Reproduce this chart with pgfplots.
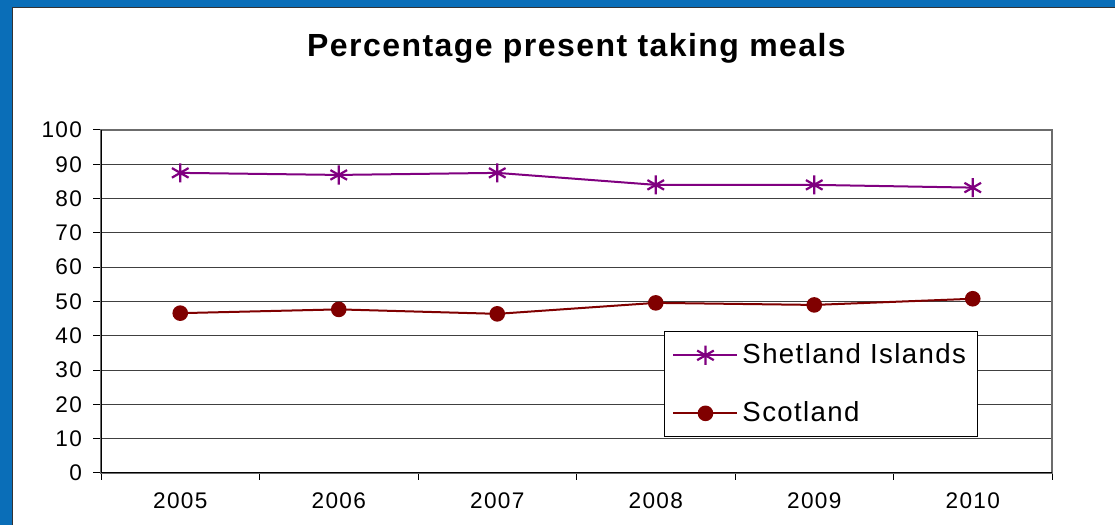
\documentclass[border=0pt]{standalone}
\usepackage{fontspec}
\setmainfont{Liberation Sans}
\newfontfamily\titlefont[LetterSpace=4.5]{Liberation Sans}
\newfontfamily\legfont[LetterSpace=5]{Liberation Sans}
\newfontfamily\tickfont[LetterSpace=6]{Liberation Sans}
\usepackage{pgfplots}
\pgfplotsset{compat=1.18}
\definecolor{frameblue}{HTML}{0A6EB8}
\definecolor{shet}{HTML}{800080}
\definecolor{scot}{HTML}{800000}
\begin{document}
\begin{tikzpicture}
\begin{scope}[x=0.5pt,y=0.5pt]
\useasboundingbox (0,0) rectangle (1115,525);
\fill[frameblue] (0,0) rectangle (1115,525);
\fill[white] (13,0) rectangle (1115,517);
\draw[black!80,line width=0.5pt] (12.5,0) -- (12.5,517.5) -- (1115,517.5);
\node[anchor=base,inner sep=0pt,font=\titlefont\bfseries\fontsize{16}{19}\selectfont] at (576.5,468) {Percentage present taking meals};
\end{scope}
\begin{axis}[
  at={(50.5pt,26pt)}, anchor=south west,
  scale only axis, width=475.5pt, height=171.5pt,
  xmin=-0.5, xmax=5.5, ymin=0, ymax=100,
  xtick={0,...,5}, xticklabels={2005,2006,2007,2008,2009,2010},
  minor xtick={-0.5,0.5,...,5.5},
  ytick={0,10,...,100},
  xtick pos=bottom, ytick pos=left,
  tick align=outside, major tick length=4pt, minor tick length=3.5pt,
  major x tick style={draw=none},
  tick style={black, line width=0.5pt},
  ymajorgrids, major grid style={black!75, line width=0.5pt},
  axis line style={gray!85!black, line width=0.8pt},
  ticklabel style={font=\tickfont\fontsize{11.3}{13}\selectfont},
  yticklabel style={xshift=-2pt},
  xticklabel style={yshift=-2.5pt},
  /pgf/number format/assume math mode=true,
  legend style={at={(0.592,0.413)}, anchor=north west, draw=black, line width=0.5pt,
    font=\legfont\fontsize{13.8}{16}\selectfont, row sep=13.5pt, inner xsep=4pt, inner ysep=4pt},
  legend cell align=left,
  legend image code/.code={\draw[mark repeat=2,mark phase=2] plot coordinates {(0pt,0pt) (16pt,0pt) (32pt,0pt)};},
]
\addplot[color=shet, line width=1pt, mark=asterisk, mark size=4.8pt, mark options={line width=1.1pt}]
  coordinates {(0,87.5) (1,86.9) (2,87.5) (3,84.0) (4,84.0) (5,83.2)};
\addlegendentry{Shetland Islands}
\addplot[color=scot, line width=1pt, mark=*, mark size=3.4pt, mark options={fill=scot}]
  coordinates {(0,46.6) (1,47.7) (2,46.4) (3,49.6) (4,49.0) (5,50.8)};
\addlegendentry{Scotland}
\draw[black, line width=0.5pt] (rel axis cs:0,1) -- (rel axis cs:0,0) -- (rel axis cs:1,0);
\end{axis}
\end{tikzpicture}
\end{document}
